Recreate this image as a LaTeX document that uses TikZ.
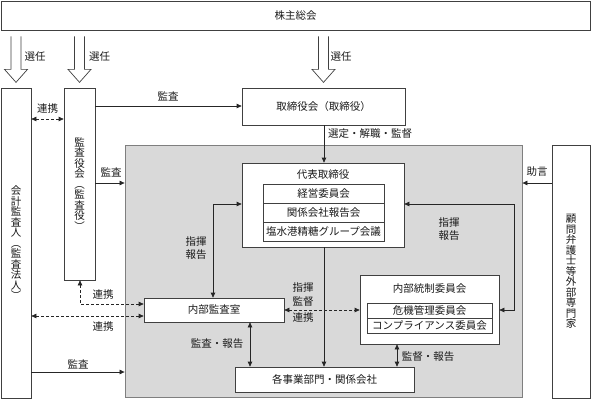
\documentclass[tikz,border=0pt]{standalone}
\usepackage{fontspec}
\setmainfont{Noto Sans CJK JP}
\usetikzlibrary{arrows.meta,calc}
\definecolor{boxc}{HTML}{404040}
\definecolor{linec}{HTML}{262626}
\definecolor{greyf}{HTML}{D9D9D9}
\definecolor{greyb}{HTML}{7F7F7F}
\definecolor{txtc}{HTML}{1A1A1A}
\newcommand\jpf{\fontsize{10.5}{10.5}\selectfont}
\newcommand\jpff{\fontsize{10.5}{13}\selectfont}
\tikzset{
  box/.style={draw=boxc, fill=white, line width=0.7pt, inner sep=0pt, font=\jpf, text=txtc},
  greybox/.style={draw=greyb, fill=greyf, line width=0.8pt, inner sep=0pt},
  lbl/.style={inner sep=0pt, font=\jpff, text=txtc, align=center},
  conn/.style={draw=linec, line width=0.7pt},
  arr/.style={conn, -{Triangle[length=5pt,width=4.5pt]}},
  darr/.style={conn, {Triangle[length=5pt,width=4.5pt]}-{Triangle[length=5pt,width=4.5pt]}},
  dsh/.style={dash pattern=on 3pt off 2pt},
  bigarrow/.pic={\draw[boxc, line width=0.7pt, fill=white]
     (-5,0) -- (-5,33) -- (-11.5,33) -- (0,46) -- (11.5,33) -- (5,33) -- (5,0);}
}
\begin{document}
\begin{tikzpicture}[x=1pt,y=-1pt]
\useasboundingbox (0,0) rectangle (591,399);
% row / column helper coordinates
\coordinate (y106) at (0,106);
\coordinate (y119) at (0,119);
\coordinate (y183) at (0,183);
\coordinate (y204) at (0,204);
\coordinate (y304) at (0,304);
\coordinate (y310) at (0,310);
\coordinate (y316) at (0,316);
\coordinate (y372) at (0,372);
\coordinate (x80) at (80,0);
\coordinate (x213) at (213,0);
\coordinate (x250) at (250,0);
\coordinate (x324) at (324,0);
\coordinate (x397) at (397,0);
\coordinate (x514) at (514,0);

% boxes
\node[box, minimum width=589pt, minimum height=29pt] (kabu) at (295.5,15.5) {株主総会};
\node[greybox, minimum width=397pt, minimum height=252pt] (grey) at (323.5,271) {};
\node[box, minimum width=30pt, minimum height=310pt, align=center] (kaikei) at (16,243)
  {会\\計\\監\\査\\人\\︵\\監\\査\\法\\人\\︶};
\node[box, minimum width=31pt, minimum height=192pt, align=center] (kansayaku) at (79.5,184)
  {監\\査\\役\\会\\︵\\監\\査\\役\\︶};
\node[box, minimum width=163pt, minimum height=37pt] (torishimari) at (323.5,106.5) {取締役会（取締役）};
\node[box, minimum width=38pt, minimum height=253pt, align=center] (komon) at (571,271.5)
  {顧\\問\\弁\\護\\士\\等\\外\\部\\専\\門\\家};
\node[box, minimum width=162pt, minimum height=84pt] (daihyo) at (323,205) {};
\node[lbl] (daihyoT) at (323,175) {代表取締役};
\node[box, minimum width=121pt, minimum height=19pt] (keiei) at (323.5,193.5) {経営委員会};
\node[box, minimum width=121pt, minimum height=19pt] (kankei) at (323.5,212.5) {関係会社報告会};
\node[box, minimum width=121pt, minimum height=19pt] (ensui) at (323.5,231.5) {塩水港精糖グループ会議};
\node[box, minimum width=140pt, minimum height=24pt] (naibukansa) at (214,310) {内部監査室};
\node[box, minimum width=139pt, minimum height=69pt] (naibutosei) at (429.5,309.5) {};
\node[lbl] (naibutoseiT) at (429.5,289) {内部統制委員会};
\node[box, minimum width=125pt, minimum height=15pt] (kiki) at (429.5,310.5) {危機管理委員会};
\node[box, minimum width=125pt, minimum height=15pt] (compl) at (429.5,325.5) {コンプライアンス委員会};
\node[box, minimum width=179pt, minimum height=25pt] (kakujigyo) at (324.5,379.5) {各事業部門・関係会社};

% hollow arrows
\pic at ($(kabu.south -| kaikei.north)+(0,6)$) {bigarrow};
\pic at ($(kabu.south -| kansayaku.north)+(0,6)$) {bigarrow};
\pic at ($(kabu.south -| torishimari.north)+(0,6)$) {bigarrow};

% connectors
\draw[darr, dsh] (kaikei.east |- y119) -- (kansayaku.west |- y119);
\draw[arr] (kansayaku.east |- y106) -- (torishimari.west |- y106);
\draw[arr] (torishimari.south -| x324) -- (daihyo.north -| x324);
\draw[arr] (kansayaku.east |- y183) -- (grey.west |- y183);
\draw[arr] (komon.west |- y183) -- (grey.east |- y183);
\draw[darr] (daihyo.east |- y204) -| (x514 |- y310) -- (naibutosei.east |- y310);
\draw[darr] (naibukansa.north -| x213) |- (daihyo.west |- y204);
\draw[darr, dsh] (kansayaku.south -| x80) |- (naibukansa.west |- y304);
\draw[darr, dsh] (kaikei.east |- y316) -- (naibukansa.west |- y316);
\draw[arr] (kaikei.east |- y372) -- (grey.west |- y372);
\draw[darr] (naibukansa.south -| x250) -- (kakujigyo.north -| x250);
\draw[arr] (daihyo.south -| x324) -- (kakujigyo.north -| x324);
\draw[darr, dsh] (naibukansa.east |- y310) -- (naibutosei.west |- y310);
\draw[darr] (naibutosei.south -| x397) -- (kakujigyo.north -| x397);

% labels
\node[lbl] (l1) at (35,57) {選任};
\node[lbl] (l2) at (99.5,57) {選任};
\node[lbl] (l3) at (341,57) {選任};
\node[lbl] (l4) at (47.5,109) {連携};
\node[lbl] (l5) at (168,96) {監査};
\node[lbl] (l6) at (370,134) {選定・解職・監督};
\node[lbl] (l7) at (111,172) {監査};
\node[lbl] (l8) at (537,172) {助言};
\node[lbl] (l9) at (449,229.5) {指揮\\報告};
\node[lbl] (l10) at (196,248) {指揮\\報告};
\node[lbl] (l11) at (103,295) {連携};
\node[lbl] (l12) at (103,327) {連携};
\node[lbl] (l13) at (78,364) {監査};
\node[lbl] (l14) at (217,344) {監査・報告};
\node[lbl, font=\fontsize{10.5}{14}\selectfont] (l15) at (303,295) {指揮\\監督};
\node[lbl] (l16) at (303,318) {連携};
\node[lbl] (l17) at (428,357) {監督・報告};
\end{tikzpicture}
\end{document}
